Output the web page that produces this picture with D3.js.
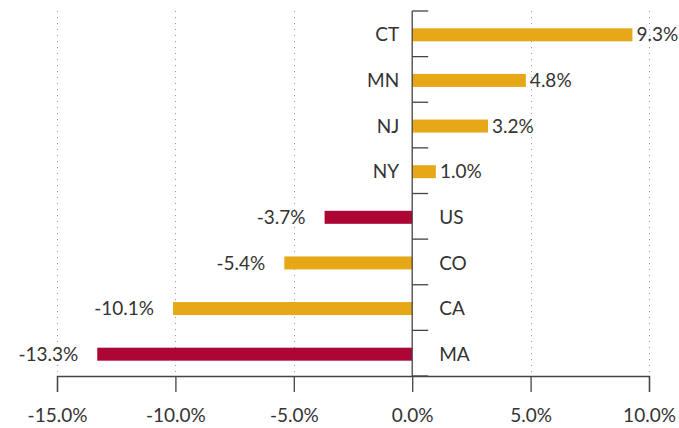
<!DOCTYPE html>
<html>
<head>
<meta charset="utf-8">
<script src="https://cdn.jsdelivr.net/npm/d3@7"></script>
<style>
  body { margin: 0; background: #fff; }
  svg text { font-family: Lato, "Open Sans", sans-serif; font-size: 19px; fill: #333; }
</style>
</head>
<body>
<svg id="chart" width="679" height="428"></svg>
<script>
// values
const states = ['CT', 'MN', 'NJ', 'NY', 'US', 'CO', 'CA', 'MA'];
const changes = [9.3, 4.8, 3.2, 1.0, -3.7, -5.4, -10.1, -13.3];
const highlighted = ['US', 'MA'];
const xTicks = [-15, -10, -5, 0, 5, 10];

const gold = '#e6a817';
const red = '#ad0634';

function drawChart() {
    const svg = d3.select('#chart');
    const top = 11, bottom = 376;

    const x = d3.scaleLinear()
        .domain([-15, 10])
        .range([57, 649]);

    const y = d3.scaleBand()
        .domain(states)
        .range([top, bottom]);

    const rows = states.map((s, i) => ({ name: s, value: changes[i] }));

    // dotted gridlines
    svg.append('g')
        .selectAll('line')
        .data(xTicks.filter(t => t !== 0))
        .join('line')
        .attr('x1', d => Math.round(x(d)) + 0.5)
        .attr('x2', d => Math.round(x(d)) + 0.5)
        .attr('y1', top)
        .attr('y2', bottom)
        .attr('stroke', '#999')
        .attr('stroke-dasharray', '1,5');

    // bottom axis
    const xAxis = svg.append('g')
        .attr('transform', `translate(0,${bottom})`)
        .call(d3.axisBottom(x).tickValues(xTicks).tickSize(16).tickPadding(17)
            .tickFormat(d => d.toFixed(1) + '%'));
    xAxis.select('.domain').attr('stroke', '#444').attr('stroke-width', 1.3);
    xAxis.selectAll('.tick line').attr('stroke', '#444').attr('stroke-width', 1.3);
    xAxis.selectAll('.tick text').attr('fill', '#333').style('font-size', '19px');

    // bars
    const barH = 13;
    svg.append('g')
        .selectAll('rect')
        .data(rows)
        .join('rect')
        .attr('x', d => x(Math.min(0, d.value)))
        .attr('width', d => Math.abs(x(d.value) - x(0)))
        .attr('y', d => y(d.name) + y.bandwidth() / 2 - barH / 2 + 1)
        .attr('height', barH)
        .attr('fill', d => highlighted.includes(d.name) ? red : gold);

    // zero axis with ticks between rows
    const zero = svg.append('g');
    zero.append('line')
        .attr('x1', x(0)).attr('x2', x(0))
        .attr('y1', top).attr('y2', bottom)
        .attr('stroke', '#444').attr('stroke-width', 1.3);
    zero.selectAll('.rowtick')
        .data(states.map(s => y(s)).concat([bottom]))
        .join('line')
        .attr('class', 'rowtick')
        .attr('x1', x(0)).attr('x2', x(0) + 16)
        .attr('y1', d => d).attr('y2', d => d)
        .attr('stroke', '#444').attr('stroke-width', 1.3);

    // category labels
    svg.append('g')
        .selectAll('text')
        .data(rows)
        .join('text')
        .attr('x', d => d.value >= 0 ? x(0) - 13 : x(0) + 27)
        .attr('y', d => y(d.name) + y.bandwidth() / 2 + 1)
        .attr('dy', '0.35em')
        .attr('text-anchor', d => d.value >= 0 ? 'end' : 'start')
        .text(d => d.name);

    // value labels
    svg.append('g')
        .selectAll('text')
        .data(rows)
        .join('text')
        .attr('x', d => d.value >= 0 ? x(d.value) + 4 : x(d.value) - 19)
        .attr('y', d => y(d.name) + y.bandwidth() / 2 + 1)
        .attr('dy', '0.35em')
        .attr('text-anchor', d => d.value >= 0 ? 'start' : 'end')
        .text(d => d.value.toFixed(1) + '%');
}

window.addEventListener('DOMContentLoaded', drawChart);
</script>
</body>
</html>
